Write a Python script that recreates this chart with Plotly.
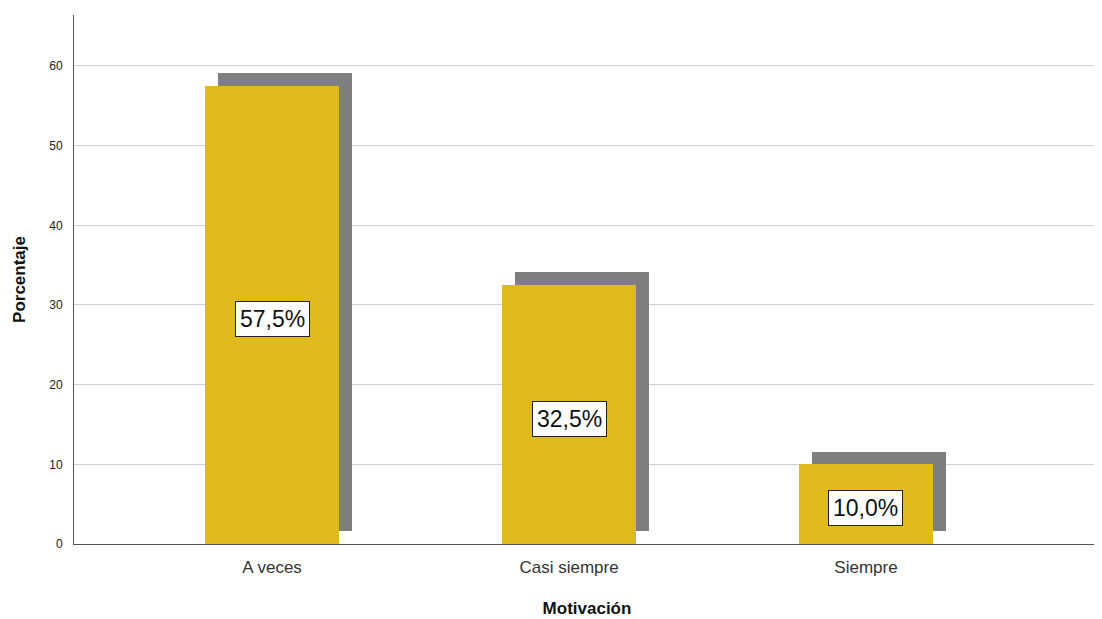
import plotly.graph_objects as go

categories = ["A veces", "Casi siempre", "Siempre"]
percentages = [57.5, 32.5, 10.0]
labels = ["57,5%", "32,5%", "10,0%"]
y_ticks = [0, 10, 20, 30, 40, 50, 60]

FONT = "Liberation Sans, Arial, sans-serif"
positions = list(range(len(categories)))
shadow_dx = 0.0438
shadow_base = 1.6
bar_width = 0.451

fig = go.Figure()
fig.add_trace(go.Bar(
    x=[p + shadow_dx for p in positions], y=percentages, base=[shadow_base] * len(percentages),
    width=bar_width, marker=dict(color="#7f7f7f", line=dict(width=0)),
    hoverinfo="skip", showlegend=False,
))
fig.add_trace(go.Bar(
    x=positions, y=percentages, width=bar_width,
    marker=dict(color="#e0b91c", line=dict(width=0)),
    showlegend=False,
))
for p, v, t in zip(positions, percentages, labels):
    fig.add_annotation(
        x=p, y=v / 2, text=t, showarrow=False, yshift=-4,
        font=dict(family=FONT, size=23, color="#111111"),
        bgcolor="white", bordercolor="#222222", borderwidth=1, borderpad=4,
    )

fig.update_layout(
    width=1102, height=619,
    margin=dict(l=66, r=10, t=7, b=83),
    plot_bgcolor="white", paper_bgcolor="white",
    barmode="overlay", bargap=0,
    font=dict(family=FONT, color="#222222"),
)
fig.update_xaxes(
    tickmode="array", tickvals=positions, ticktext=categories,
    range=[-0.667, 2.788], showgrid=False, zeroline=False,
    showline=True, linecolor="#555555", linewidth=1,
    tickfont=dict(size=17, color="#333333"), ticks="", ticklabelstandoff=8,
    title=dict(text="<b>Motivación</b>", font=dict(size=17, color="#111111"), standoff=25),
)
fig.update_yaxes(
    range=[0, 66.4], tickvals=y_ticks, showgrid=True, gridcolor="#d0d0d0", gridwidth=1,
    zeroline=False, showline=True, linecolor="#555555", linewidth=1,
    tickfont=dict(size=12, color="#222222"), ticks="", ticklabelstandoff=8,
    title=dict(text="<b>Porcentaje</b>", font=dict(size=17, color="#111111"), standoff=19),
)

fig.write_html("out.html")
